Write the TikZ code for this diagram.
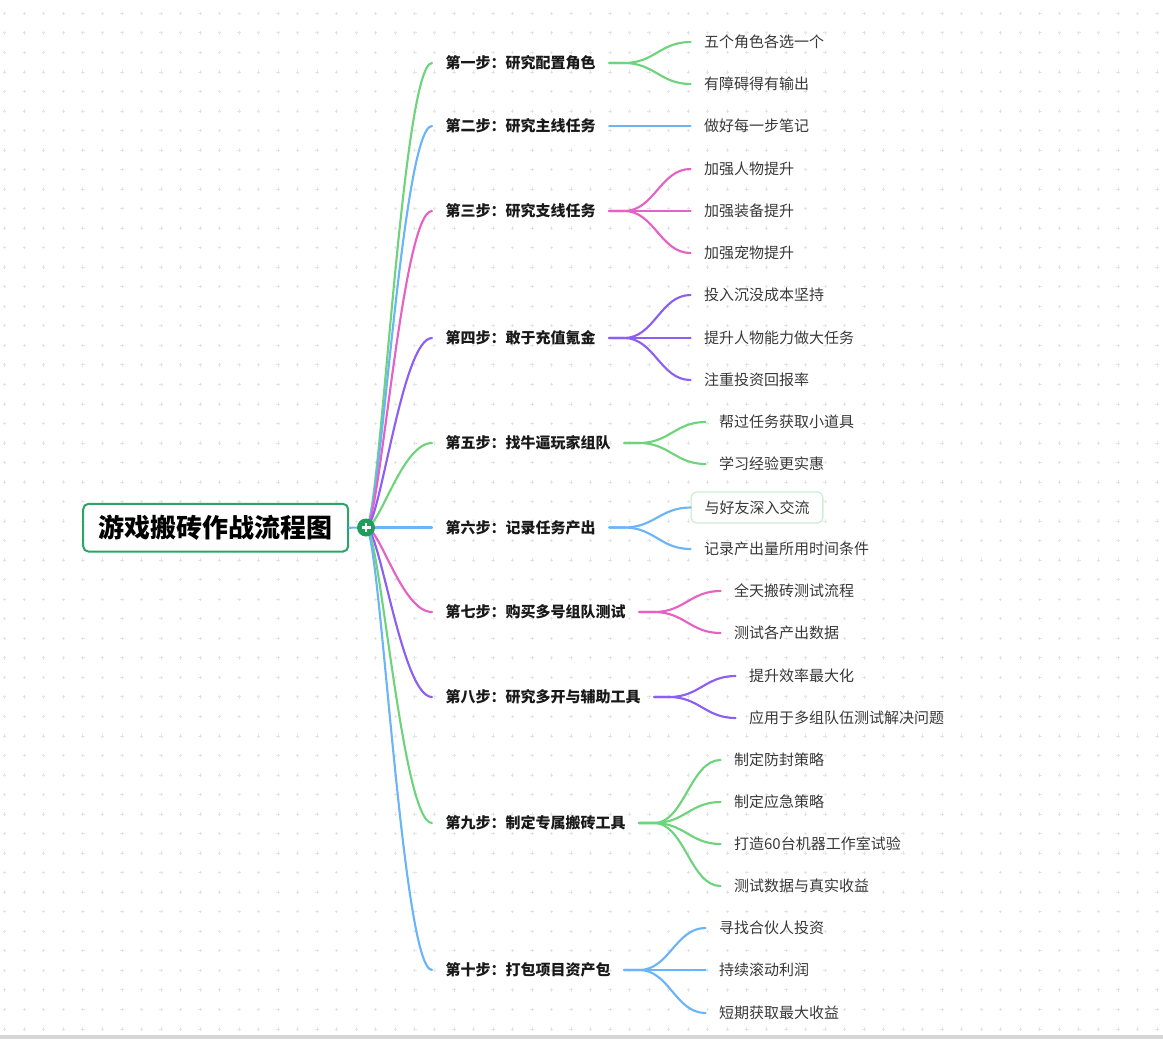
\documentclass[tikz,border=0pt]{standalone}
\usepackage{fontspec}
\setmainfont{Noto Sans CJK SC}

\definecolor{lgreen}{HTML}{6ED47C}
\definecolor{lblue}{HTML}{6AB4F7}
\definecolor{lpink}{HTML}{E561C3}
\definecolor{lpurple}{HTML}{8C5EF4}
\definecolor{rootgreen}{HTML}{2AA467}
\definecolor{hubgreen}{HTML}{1E9E5A}
\definecolor{boxgreen}{HTML}{CDEFD4}
\definecolor{gridgray}{HTML}{E4E4E4}
\definecolor{bargray}{HTML}{D6D6D6}

\begin{document}
\begin{tikzpicture}[x=0.75pt,y=-0.75pt,
	rootnode/.style={draw=rootgreen,line width=1.5pt,rounded corners=4pt,fill=white,
		minimum width=198.75pt,minimum height=35.8pt,
		font=\fontsize{19.5}{22}\selectfont\bfseries},
	stepnode/.style={anchor=west,inner xsep=10pt,text=black!90,
		text height=0.9em,text depth=0.02em,
		font=\fontsize{11.25}{13}\selectfont\bfseries},
	leaf/.style={anchor=west,inner xsep=10pt,text=black!78,
		text height=0.9em,text depth=0.02em,
		font=\fontsize{11.25}{13}\selectfont},
	branch/.style={line width=1.6pt,line cap=round},
	gridmark/.style={gridgray,line width=0.55pt}]
	\useasboundingbox (0,0) rectangle (1163,1039);

	% background grid of small crosses
	\foreach \i in {0,...,59}
	\foreach \j in {0,...,52}
	{
		\draw[gridmark] ({4.7+19.53*\i-1.7},{13.3+19.53*\j}) -- ++(3.4,0)
			({4.7+19.53*\i},{13.3+19.53*\j-1.7}) -- ++(0,3.4);
	}
	\fill[bargray] (0,1034.5) rectangle (1163,1039);

	% steps
	\node[stepnode] (s1) at (432,63) {第一步：研究配置角色};
	\node[stepnode] (s2) at (432,126) {第二步：研究主线任务};
	\node[stepnode] (s3) at (432,211) {第三步：研究支线任务};
	\node[stepnode] (s4) at (432,338) {第四步：敢于充值氪金};
	\node[stepnode] (s5) at (432,443) {第五步：找牛逼玩家组队};
	\node[stepnode] (s6) at (432,527.5) {第六步：记录任务产出};
	\node[stepnode] (s7) at (432,612) {第七步：购买多号组队测试};
	\node[stepnode] (s8) at (432,697) {第八步：研究多开与辅助工具};
	\node[stepnode] (s9) at (432,823) {第九步：制定专属搬砖工具};
	\node[stepnode] (s10) at (432,970) {第十步：打包项目资产包};

	% leaves
	\node[leaf] (a1) at (690.5,42) {五个角色各选一个};
	\node[leaf] (a2) at (690.5,84) {有障碍得有输出};
	\node[leaf] (b1) at (690.5,126) {做好每一步笔记};
	\node[leaf] (c1) at (690.5,169) {加强人物提升};
	\node[leaf] (c2) at (690.5,211) {加强装备提升};
	\node[leaf] (c3) at (690.5,253) {加强宠物提升};
	\node[leaf] (d1) at (690.5,295) {投入沉没成本坚持};
	\node[leaf] (d2) at (690.5,338) {提升人物能力做大任务};
	\node[leaf] (d3) at (690.5,380) {注重投资回报率};
	\node[leaf] (e1) at (705.5,422) {帮过任务获取小道具};
	\node[leaf] (e2) at (705.5,464) {学习经验更实惠};
	\node[leaf,draw=boxgreen,line width=1pt,rounded corners=4pt,fill=white,
		minimum height=23.25pt] (f1) at (690.5,507.5) {与好友深入交流};
	\node[leaf] (f2) at (690.5,549) {记录产出量所用时间条件};
	\node[leaf] (g1) at (720.5,591) {全天搬砖测试流程};
	\node[leaf] (g2) at (720.5,633) {测试各产出数据};
	\node[leaf] (h1) at (735.5,676) {提升效率最大化};
	\node[leaf] (h2) at (735.5,718) {应用于多组队伍测试解决问题};
	\node[leaf] (i1) at (720.5,760) {制定防封策略};
	\node[leaf] (i2) at (720.5,802) {制定应急策略};
	\node[leaf] (i3) at (720.5,844) {打造60台机器工作室试验};
	\node[leaf] (i4) at (720.5,886) {测试数据与真实收益};
	\node[leaf] (j1) at (705.5,928) {寻找合伙人投资};
	\node[leaf] (j2) at (705.5,970) {持续滚动利润};
	\node[leaf] (j3) at (705.5,1013) {短期获取最大收益};

	% root and hub
	\coordinate (hub) at (366,527.5);
	\draw[branch][lblue] (hub) -- (s6.west);
	\draw[branch][lgreen] (hub) .. controls +(14,0) and +(-30,0) .. (s1.west);
	\draw[branch][lblue] (hub) .. controls +(14,0) and +(-30,0) .. (s2.west);
	\draw[branch][lpink] (hub) .. controls +(14,0) and +(-30,0) .. (s3.west);
	\draw[branch][lpurple] (hub) .. controls +(14,0) and +(-30,0) .. (s4.west);
	\draw[branch][lgreen] (hub) .. controls +(14,0) and +(-30,0) .. (s5.west);
	\draw[branch][lpink] (hub) .. controls +(14,0) and +(-30,0) .. (s7.west);
	\draw[branch][lpurple] (hub) .. controls +(14,0) and +(-30,0) .. (s8.west);
	\draw[branch][lgreen] (hub) .. controls +(14,0) and +(-30,0) .. (s9.west);
	\draw[branch][lblue] (hub) .. controls +(14,0) and +(-30,0) .. (s10.west);

	\node[rootnode] (root) at (215.7,527.7) {游戏搬砖作战流程图};
	\draw[branch][lblue] (root.east) -- (hub);
	\node[circle,fill=hubgreen,minimum size=13.5pt,inner sep=0pt] (plus) at (hub) {};
	\draw[white,line width=1.6pt] (plus.center) ++(-4.5,0) -- ++(9,0)
		(plus.center) ++(0,-4.5) -- ++(0,9);

	% step to leaves
	\draw[branch][lgreen] (s1.east) -- ++(15,0) .. controls +(30,0) and +(-30,0) .. (a1.west);
	\draw[branch][lgreen] (s1.east) -- ++(15,0) .. controls +(30,0) and +(-30,0) .. (a2.west);
	\draw[branch][lblue] (s2.east) -- (b1.west);
	\draw[branch][lpink] (s3.east) -- ++(15,0) .. controls +(30,0) and +(-30,0) .. (c1.west);
	\draw[branch][lpink] (s3.east) -- (c2.west);
	\draw[branch][lpink] (s3.east) -- ++(15,0) .. controls +(30,0) and +(-30,0) .. (c3.west);
	\draw[branch][lpurple] (s4.east) -- ++(15,0) .. controls +(30,0) and +(-30,0) .. (d1.west);
	\draw[branch][lpurple] (s4.east) -- (d2.west);
	\draw[branch][lpurple] (s4.east) -- ++(15,0) .. controls +(30,0) and +(-30,0) .. (d3.west);
	\draw[branch][lgreen] (s5.east) -- ++(15,0) .. controls +(30,0) and +(-30,0) .. (e1.west);
	\draw[branch][lgreen] (s5.east) -- ++(15,0) .. controls +(30,0) and +(-30,0) .. (e2.west);
	\draw[branch][lblue] (s6.east) -- ++(15,0) .. controls +(30,0) and +(-30,0) .. (f1.west);
	\draw[branch][lblue] (s6.east) -- ++(15,0) .. controls +(30,0) and +(-30,0) .. (f2.west);
	\draw[branch][lpink] (s7.east) -- ++(15,0) .. controls +(30,0) and +(-30,0) .. (g1.west);
	\draw[branch][lpink] (s7.east) -- ++(15,0) .. controls +(30,0) and +(-30,0) .. (g2.west);
	\draw[branch][lpurple] (s8.east) -- ++(15,0) .. controls +(30,0) and +(-30,0) .. (h1.west);
	\draw[branch][lpurple] (s8.east) -- ++(15,0) .. controls +(30,0) and +(-30,0) .. (h2.west);
	\draw[branch][lgreen] (s9.east) -- ++(15,0) .. controls +(30,0) and +(-30,0) .. (i1.west);
	\draw[branch][lgreen] (s9.east) -- ++(15,0) .. controls +(30,0) and +(-30,0) .. (i2.west);
	\draw[branch][lgreen] (s9.east) -- ++(15,0) .. controls +(30,0) and +(-30,0) .. (i3.west);
	\draw[branch][lgreen] (s9.east) -- ++(15,0) .. controls +(30,0) and +(-30,0) .. (i4.west);
	\draw[branch][lblue] (s10.east) -- ++(15,0) .. controls +(30,0) and +(-30,0) .. (j1.west);
	\draw[branch][lblue] (s10.east) -- (j2.west);
	\draw[branch][lblue] (s10.east) -- ++(15,0) .. controls +(30,0) and +(-30,0) .. (j3.west);
\end{tikzpicture}
\end{document}
